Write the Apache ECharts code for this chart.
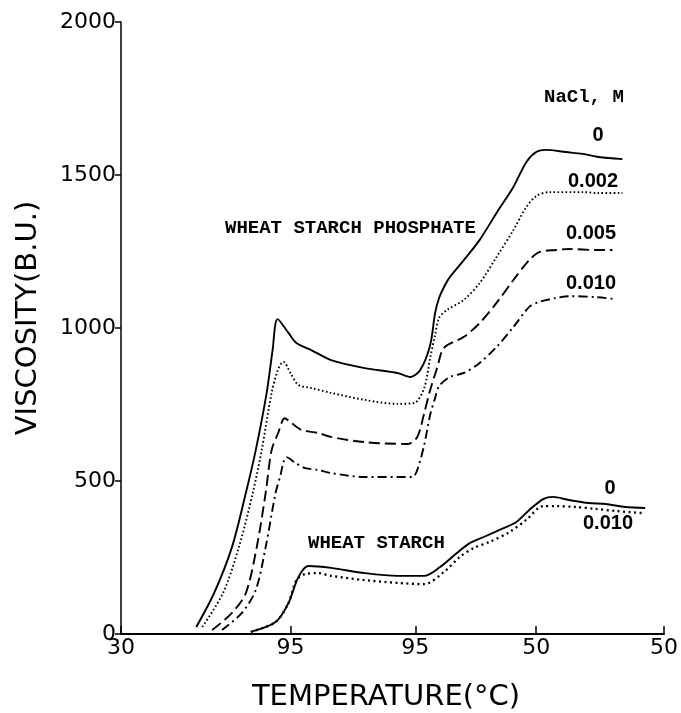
<!DOCTYPE html>
<html>
<head>
<meta charset="utf-8">
<script src="https://cdn.jsdelivr.net/npm/echarts@6/dist/echarts.min.js"></script>
<style>html,body{margin:0;padding:0;background:#fff}#c{width:681px;height:713px}</style>
</head>
<body>
<div id="c"></div>
<script>
// x: elapsed-time units along the amylograph programme; tick labels are temperatures
const xTickValues = [0, 171, 297, 419, 548];
const xTickLabels = ['30', '95', '95', '50', '50'];
const yMin = 0, yMax = 2000, yStep = 500;

// Wheat starch phosphate, NaCl 0 M
const phos000 = [[76,23],[94,134],[112,284],[126,461],[136,601],[147,788],[153,928],[158,1029],[169,984],[177,951],[192,928],[212,895],[246,869],[279,853],[292,840],[302,863],[312,944],[317,1049],[321,1098],[326,1134],[332,1167],[346,1222],[362,1288],[379,1376],[396,1461],[409,1542],[419,1575],[429,1582],[449,1575],[466,1569],[482,1559],[506,1552]];
// NaCl 0.002 M
const phos002 = [[82,23],[103,134],[119,284],[133,461],[142,601],[152,788],[158,860],[162,886],[164,889],[171,853],[179,814],[192,804],[212,788],[246,765],[279,752],[296,755],[306,804],[312,902],[317,977],[321,1033],[329,1059],[346,1092],[362,1147],[379,1232],[396,1320],[409,1395],[419,1431],[432,1444],[466,1444],[482,1441],[506,1441]];
// NaCl 0.005 M
const phos005 = [[92,13],[112,69],[126,134],[137,284],[146,461],[152,601],[159,660],[162,690],[165,705],[172,690],[182,667],[199,657],[212,644],[246,627],[289,621],[299,644],[306,722],[312,797],[319,869],[326,935],[346,971],[362,1016],[379,1082],[396,1157],[412,1222],[422,1248],[439,1255],[452,1258],[479,1255],[496,1255]];
// NaCl 0.010 M
const phos010 = [[102,13],[122,69],[136,144],[146,284],[156,461],[161,520],[164,562],[167,578],[176,559],[186,542],[199,536],[212,526],[246,513],[279,513],[294,513],[299,536],[306,618],[312,716],[317,771],[321,810],[332,840],[346,853],[362,886],[379,938],[396,1003],[412,1069],[422,1085],[439,1098],[452,1104],[479,1101],[497,1095]];
// Wheat starch, NaCl 0 M
const wheat000 = [[131,7],[156,39],[169,101],[179,186],[189,222],[212,216],[246,199],[279,190],[306,190],[322,219],[339,265],[352,297],[366,317],[386,346],[399,366],[412,405],[426,441],[436,448],[452,438],[472,428],[489,425],[509,415],[529,412]];
// Wheat starch, NaCl 0.010 M
const wheat010 = [[131,7],[156,39],[169,101],[177,176],[186,196],[199,199],[212,190],[246,176],[279,167],[306,163],[326,203],[342,252],[356,281],[372,301],[392,333],[409,373],[426,418],[439,418],[459,415],[479,409],[499,402],[527,395]];

const chart = echarts.init(document.getElementById('c'), null, {renderer: 'canvas'});
const mk = (data, type, w) => ({
  type: 'line', data: data, showSymbol: false, smooth: 0.3, silent: true,
  lineStyle: {color: '#000', width: w, type: type, cap: 'butt'}
});
const font = 'DejaVu Sans';
const ann = (text, x, y, align, f) => ({
  type: 'text', x: x, y: y, silent: true,
  style: {text: text, fill: '#000', font: f, textAlign: align, textVerticalAlign: 'middle'}
});
const monoF = 'bold 19px "Liberation Mono"';
const numF = 'bold 20px "Liberation Sans"';

chart.setOption({
  animation: false,
  backgroundColor: '#fff',
  grid: {left: 121, right: 12, top: 22, bottom: 79},
  xAxis: {
    type: 'value', min: 0, max: 548,
    splitLine: {show: false},
    axisLine: {lineStyle: {color: '#000', width: 2}},
    axisTick: {show: true, inside: true, length: 8, customValues: xTickValues, lineStyle: {color: '#000', width: 1.5}},
    axisLabel: {customValues: xTickValues, formatter: v => xTickLabels[xTickValues.indexOf(v)], color: '#000', fontFamily: font, fontSize: 22, margin: 3}
  },
  yAxis: {
    type: 'value', min: yMin, max: yMax, interval: yStep,
    splitLine: {show: false},
    axisLine: {show: true, lineStyle: {color: '#000', width: 1.5}},
    axisTick: {show: true, length: 6, lineStyle: {color: '#000', width: 1.5}},
    axisLabel: {formatter: v => String(v), color: '#000', fontFamily: font, fontSize: 22, margin: 5}
  },
  series: [
    mk(phos000, 'solid', 1.9),
    mk(phos002, [1.6, 2.4], 1.9),
    mk(phos005, [11, 5], 1.9),
    mk(phos010, [9, 4, 2, 4], 1.9),
    mk(wheat000, 'solid', 1.9),
    mk(wheat010, [2, 3.5], 2.3)
  ],
  graphic: [
    ann('VISCOSITY(B.U.)', 28, 318, 'center', '29px "DejaVu Sans"'),
    ann('TEMPERATURE(\u00B0C)', 386, 697, 'center', '29px "DejaVu Sans"'),
    ann('WHEAT STARCH PHOSPHATE', 225, 228, 'left', monoF),
    ann('NaCl, M', 544, 97, 'left', monoF),
    ann('WHEAT STARCH', 308, 543, 'left', monoF),
    ann('0', 598, 135, 'center', numF),
    ann('0.002', 593, 181, 'center', numF),
    ann('0.005', 591, 233, 'center', numF),
    ann('0.010', 591, 283, 'center', numF),
    ann('0', 610, 488, 'center', numF),
    ann('0.010', 608, 523, 'center', numF)
  ].map((g, i) => i === 0 ? Object.assign(g, {rotation: Math.PI / 2}) : g)
});
</script>
</body>
</html>
